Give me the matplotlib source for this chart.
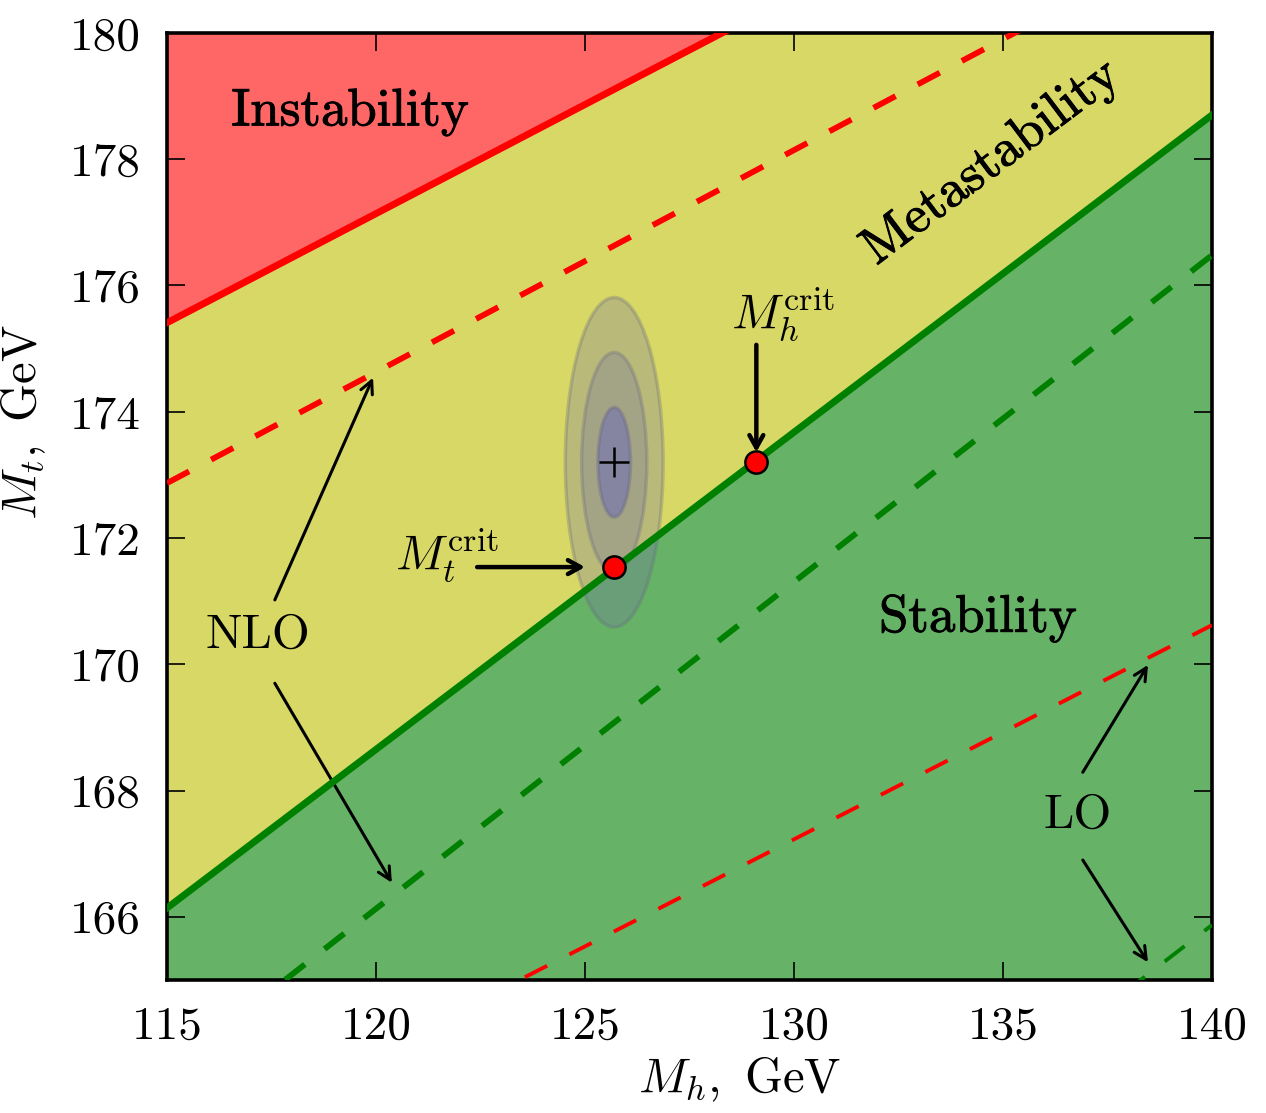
import matplotlib
matplotlib.use('Agg')
import matplotlib.pyplot as plt
import matplotlib.patheffects as pe
from matplotlib.patches import Ellipse
import numpy as np

plt.rcParams['font.family'] = 'cmr10'
plt.rcParams['mathtext.fontset'] = 'cm'
plt.rcParams['axes.unicode_minus'] = False
plt.rcParams['lines.scale_dashes'] = False

# Higgs mass grid and the boundary lines (Mt values at the two ends)
mh = np.array([115.0, 140.0])
mt_instab = np.array([175.41, 184.05])      # instability boundary, NLO
mt_stab = np.array([166.14, 178.70])        # stability boundary, NLO
mt_instab_nlo_dash = np.array([172.87, 181.66])
mt_stab_nlo_dash = np.array([163.54, 176.48])
mt_instab_lo = np.array([162.14, 170.62])
mt_stab_lo = np.array([153.12, 165.87])

# experimental point and errors
mh_exp = 125.7
mt_exp = 173.2
sig_mh = 0.39
sig_mt = 0.87
n_sigma = [3, 2, 1]

# critical points
mh_crit = [129.1]
mt_at_mh_crit = [173.2]
mh_at_mt_crit = [125.7]
mt_crit = [171.54]

fig = plt.figure(figsize=(12.66, 11.13), dpi=100)
ax = fig.add_axes([0.1319, 0.1195, 0.8254, 0.8509])

# regions
ax.fill_between(mh, mt_instab, 190, color='r', alpha=0.6, lw=0)
ax.fill_between(mh, mt_stab, mt_instab, color=(0.75, 0.75, 0), alpha=0.6, lw=0)
ax.fill_between(mh, 150, mt_stab, color=(0, 0.5, 0), alpha=0.6, lw=0)

# error ellipses
ell_fc = {3: (0.45, 0.45, 0.65), 2: (0.45, 0.45, 0.65), 1: (0.3, 0.3, 0.85)}
ell_a = {3: 0.3, 2: 0.3, 1: 0.35}
for k in n_sigma:
    e = Ellipse((mh_exp, mt_exp), 2 * k * sig_mh, 2 * k * sig_mt,
                facecolor=ell_fc[k], alpha=ell_a[k], edgecolor=(0.4, 0.4, 0.5),
                lw=2.5, zorder=2)
    ax.add_patch(e)
ax.plot([mh_exp], [mt_exp], '+', color='k', ms=22, mew=1.8, zorder=6)

# lines
ax.plot(mh, mt_instab, color='r', lw=5, zorder=4)
ax.plot(mh, mt_stab, color='g', lw=5, zorder=4)
ax.plot(mh, mt_instab_nlo_dash, color='r', lw=4.2, dashes=(18, 18), zorder=3)
ax.plot(mh, mt_stab_nlo_dash, color='g', lw=4.2, dashes=(18, 18), zorder=3)
ax.plot(mh, mt_instab_lo, color='r', lw=2.8, dashes=(18, 18), zorder=3)
ax.plot(mh, mt_stab_lo, color='g', lw=2.8, dashes=(18, 18), zorder=3)

# critical points
ax.plot(mh_crit, mt_at_mh_crit, 'o', color='r', mec='k', mew=1.8, ms=16, zorder=7)
ax.plot(mh_at_mt_crit, mt_crit, 'o', color='r', mec='k', mew=1.8, ms=16, zorder=7)

# region labels (semi-bold look: roman font with a thin outline)
semi = [pe.withStroke(linewidth=0.7, foreground='k')]
ax.text(119.38, 178.75, 'Instability', fontsize=38, ha='center', va='center',
        path_effects=semi)
ax.text(134.72, 177.95, 'Metastability', fontsize=38, ha='center', va='center',
        rotation=37, rotation_mode='anchor', path_effects=semi)
ax.text(134.4, 170.73, 'Stability', fontsize=38, ha='center', va='center',
        path_effects=semi)

# NLO / LO arrows
thin = dict(arrowstyle='->, head_length=0.9, head_width=0.45', lw=2.2, color='k',
            shrinkA=0, shrinkB=0)
ax.text(117.18, 170.45, 'NLO', fontsize=35, ha='center', va='center')
ax.annotate('', xy=(119.93, 174.54), xytext=(117.58, 171.02), arrowprops=thin)
ax.annotate('', xy=(120.38, 166.54), xytext=(117.58, 169.70), arrowprops=thin)
ax.text(136.79, 167.61, 'LO', fontsize=35, ha='center', va='center')
ax.annotate('', xy=(138.47, 169.99), xytext=(136.91, 168.29), arrowprops=thin)
ax.annotate('', xy=(138.47, 165.28), xytext=(136.91, 166.90), arrowprops=thin)

thick = dict(arrowstyle='->, head_length=0.9, head_width=0.5', lw=3.2, color='k',
             shrinkA=0, shrinkB=0)
ax.text(121.7, 171.72, r'$M_t^{\rm crit}$', fontsize=35, ha='center', va='center')
ax.annotate('', xy=(125.0, 171.54), xytext=(122.42, 171.54), arrowprops=thick)
ax.text(129.75, 175.55, r'$M_h^{\rm crit}$', fontsize=35, ha='center', va='center')
ax.annotate('', xy=(129.1, 173.36), xytext=(129.1, 175.06), arrowprops=thick)

ax.set_xlim(115, 140)
ax.set_ylim(165, 180)
ax.set_xticks([115, 120, 125, 130, 135, 140])
ax.set_yticks([166, 168, 170, 172, 174, 176, 178, 180])
ax.tick_params(direction='in', length=13, width=1.2, labelsize=34,
               top=True, right=True)
ax.tick_params(axis='x', pad=19)
ax.tick_params(axis='y', pad=19)
for s in ax.spines.values():
    s.set_linewidth(2.6)

fig.text(740 / 1266, 1 - 1080 / 1113, r'$M_h,\ \mathrm{GeV}$', fontsize=35,
         ha='center', va='center')
fig.text(24 / 1266, 1 - 422 / 1113, r'$M_t,\ \mathrm{GeV}$', fontsize=35,
         ha='center', va='center', rotation=90)

fig.savefig('out.png', dpi=100)
